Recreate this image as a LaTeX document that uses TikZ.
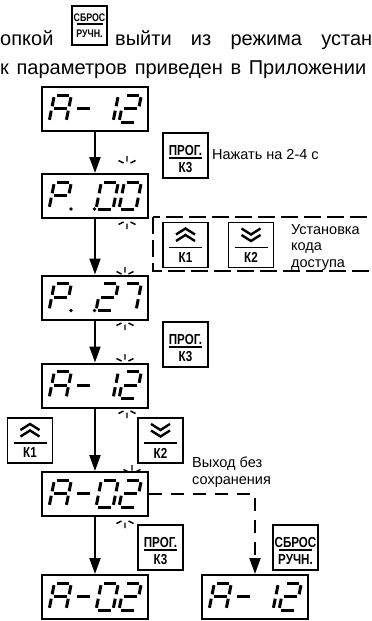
\documentclass[tikz,border=0pt]{standalone}
\usepackage{fontspec}
\setmainfont{Liberation Sans}
\newfontfamily\keyfont[FakeStretch=0.8]{Liberation Sans}
\usetikzlibrary{arrows.meta,calc}

% seven-segment geometry (cell width, height, slant, joint gap, top offset)
\def\sgW{17}
\def\sgH{27}
\def\sgS{0.2}
\def\sgG{2.2}
\def\sgT{9}
\def\sgbox{d1}
\def\sgx{8}

\newcommand\sline[4]{%
  \draw[seg] ($(\sgbox.north west)+({\sgx+(#1)+\sgS*(\sgH-(#2))},{\sgT+(#2)})$)
          -- ($(\sgbox.north west)+({\sgx+(#3)+\sgS*(\sgH-(#4))},{\sgT+(#4)})$);}
\newcommand\segA{\sline{\sgG}{0}{\sgW-\sgG}{0}}
\newcommand\segB{\sline{\sgW}{\sgG}{\sgW}{\sgH/2-\sgG}}
\newcommand\segC{\sline{\sgW}{\sgH/2+\sgG}{\sgW}{\sgH-\sgG}}
\newcommand\segD{\sline{\sgG}{\sgH}{\sgW-\sgG}{\sgH}}
\newcommand\segE{\sline{0}{\sgH/2+\sgG}{0}{\sgH-\sgG}}
\newcommand\segF{\sline{0}{\sgG}{0}{\sgH/2-\sgG}}
\newcommand\segMid{\sline{\sgG}{\sgH/2}{\sgW-\sgG}{\sgH/2}}
\newcommand\segDot{\fill ($(\sgbox.north west)+({\sgx+\sgW+5},{\sgT+\sgH})$) circle[radius=1.8pt];}

\newcommand\digA{\segA\segB\segC\segE\segF\segMid}
\newcommand\digP{\segA\segB\segE\segF\segMid}
\newcommand\digZero{\segA\segB\segC\segD\segE\segF}
\newcommand\digOne{\segB\segC}
\newcommand\digTwo{\segA\segB\segMid\segE\segD}
\newcommand\digSeven{\segA\segB\segC}
\newcommand\digDash{\segMid}
\newcommand\cell[2]{\def\sgx{#1}#2}

% readouts
\newcommand\showAtwelve[1]{\def\sgbox{#1}\cell{8}{\digA}\cell{31.5}{\digDash}\cell{55}{\digOne}\cell{78}{\digTwo}}
\newcommand\showAzerotwo[1]{\def\sgbox{#1}\cell{8}{\digA}\cell{31.5}{\digDash}\cell{55}{\digZero}\cell{78}{\digTwo}}
\newcommand\showP[3]{\def\sgbox{#1}\cell{8}{\digP\segDot}\cell{31.5}{\segDot}\cell{55}{#2}\cell{78}{#3}}

% key pad drawing: name, x, y, upper label, lower label
\newcommand\keybox[5]{%
  \node[keyframe] (#1) at (#2,#3) {};
  \node[keylbl] (#1-t) at ($(#1.center)+(0,-5)$) {#4};
  \draw[keybar] ($(#1.center)+(-16.5,2.5)$) -- ($(#1.center)+(16.5,2.5)$);
  \node[keylbl] (#1-b) at ($(#1.center)+(0,12.5)$) {#5};}
\newcommand\arrowkey[5]{% name, x, y, up(1)/down(0), label
  \node[keyframe] (#1) at (#2,#3) {};
  \ifnum#4=1
    \draw[chev] ($(#1.center)+(-9.5,-10.5)$) -- ($(#1.center)+(0,-16.5)$) -- ($(#1.center)+(9.5,-10.5)$);
    \draw[chev] ($(#1.center)+(-9.5,-4)$) -- ($(#1.center)+(0,-10)$) -- ($(#1.center)+(9.5,-4)$);
  \else
    \draw[chev] ($(#1.center)+(-9.5,-16.5)$) -- ($(#1.center)+(0,-10.5)$) -- ($(#1.center)+(9.5,-16.5)$);
    \draw[chev] ($(#1.center)+(-9.5,-10)$) -- ($(#1.center)+(0,-4)$) -- ($(#1.center)+(9.5,-10)$);
  \fi
  \draw[keybar] ($(#1.center)+(-16.5,2.5)$) -- ($(#1.center)+(16.5,2.5)$);
  \node[keylbl] (#1-b) at ($(#1.center)+(0,12.5)$) {#5};}

% blinking marks: rays above or below a point
\newcommand\blinkup[1]{%
  \draw[blink] ($(#1)+(-3.5,-2)$) -- ($(#1)+(-8.5,-4.5)$)
               ($(#1)+(0,-3.5)$) -- ($(#1)+(0,-9)$)
               ($(#1)+(3.5,-2)$) -- ($(#1)+(8.5,-4.5)$);}
\newcommand\blinkdown[1]{%
  \draw[blink] ($(#1)+(-3.5,2)$) -- ($(#1)+(-8.5,4.5)$)
               ($(#1)+(0,3.5)$) -- ($(#1)+(0,9)$)
               ($(#1)+(3.5,2)$) -- ($(#1)+(8.5,4.5)$);}

\tikzset{
  disp/.style={draw, line width=2pt, minimum width=106pt, minimum height=44pt, inner sep=0pt},
  keyframe/.style={draw, line width=1.8pt, minimum width=45pt, minimum height=45pt, inner sep=0pt},
  keylbl/.style={inner sep=0pt, font=\keyfont\bfseries\fontsize{14.5}{14.5}\selectfont},
  keybar/.style={line width=1.6pt},
  chev/.style={line width=2.4pt, line join=miter},
  seg/.style={line width=3pt},
  blink/.style={line width=1.4pt},
  flow/.style={line width=2pt, -{Triangle[length=16pt,width=11pt]}},
  lbl/.style={inner sep=0pt, font=\fontsize{14.5}{16.5}\selectfont, align=left},
  toptxt/.style={inner sep=0pt, font=\fontsize{20}{24}\selectfont},
  dashbox/.style={line width=2pt, dash pattern=on 17pt off 6pt},
  dashflow/.style={line width=2pt, dash pattern=on 13pt off 9pt, -{Triangle[length=16pt,width=11pt]}}
}

\begin{document}
\begin{tikzpicture}[x=1pt, y=-1pt]
\clip (0,0) rectangle (372,621);

% running text above the chart
\node[toptxt, anchor=base west] (w1) at (0,45) {опкой};
\node[keyframe, minimum width=35pt, minimum height=39pt, line width=1.6pt] (top) at (89.5,25.5) {};
\node[keylbl, font=\keyfont\bfseries\fontsize{11}{11}\selectfont] (top-t) at ($(top.center)+(0,-8)$) {СБРОС};
\draw[keybar, line width=1.3pt] ($(top.center)+(-13,-1.5)$) -- ($(top.center)+(13,-1.5)$);
\node[keylbl, font=\keyfont\bfseries\fontsize{11}{11}\selectfont] (top-b) at ($(top.center)+(0,8.5)$) {РУЧН.};
\node[toptxt, anchor=base west] (w2) at (115,45) {\makebox[257pt][s]{выйти из режима устан}};
\node[toptxt, anchor=base west] (w3) at (0,74) {\makebox[366pt][s]{к параметров приведен в Приложении}};

% displays
\node[disp] (d1) at (95,109) {};
\node[disp] (d2) at (95,196) {};
\node[disp] (d3) at (95,297.5) {};
\node[disp] (d4) at (95,385.5) {};
\node[disp] (d5) at (95,494) {};
\node[disp] (d6) at (95,597) {};
\node[disp] (d7) at (255,597) {};

\showAtwelve{d1}
\showP{d2}{\digZero}{\digZero}
\showP{d3}{\digTwo}{\digSeven}
\showAtwelve{d4}
\showAzerotwo{d5}
\showAzerotwo{d6}
\showAtwelve{d7}

% transitions
\draw[flow] (d1) -- (d2);
\draw[flow] (d2) -- (d3);
\draw[flow] (d3) -- (d4);
\draw[flow] (d4) -- (d5);
\draw[flow] (d5) -- (d6);
\draw[dashflow] (d5.east) -| (d7.north);

% keys
\keybox{p1}{185.5}{155.5}{ПРОГ.}{К3}
\node[lbl, anchor=west] (t1) at (212,155) {Нажать на 2-4 с};

\draw[dashbox] (153,217) rectangle (390,271);
\arrowkey{u1}{185.5}{245}{1}{К1}
\arrowkey{n1}{251}{245}{0}{К2}
\node[lbl, anchor=north west] (t2) at (291,224) {Установка\\кода\\доступа};

\keybox{p2}{185.5}{344.5}{ПРОГ.}{К3}
\arrowkey{u2}{30}{440.5}{1}{К1}
\arrowkey{n2}{160.5}{440.5}{0}{К2}
\node[lbl, anchor=north west] (t3) at (192,457) {Выход без\\сохранения};

\keybox{p3}{160.5}{547.5}{ПРОГ.}{К3}
\keybox{r1}{295.5}{547.5}{СБРОС}{РУЧН.}

% blinking digit marks
\coordinate (m1) at (127,165);  \blinkup{m1}
\coordinate (m2) at (127,220);  \blinkdown{m2}
\coordinate (m3) at (125,276);  \blinkup{m3}
\coordinate (m4) at (125,321);  \blinkdown{m4}
\coordinate (m5) at (125,363);  \blinkup{m5}
\coordinate (m6) at (127,409);  \blinkdown{m6}
\coordinate (m7) at (132,474);  \blinkup{m7}
\coordinate (m8) at (125,519);  \blinkdown{m8}
\end{tikzpicture}
\end{document}
